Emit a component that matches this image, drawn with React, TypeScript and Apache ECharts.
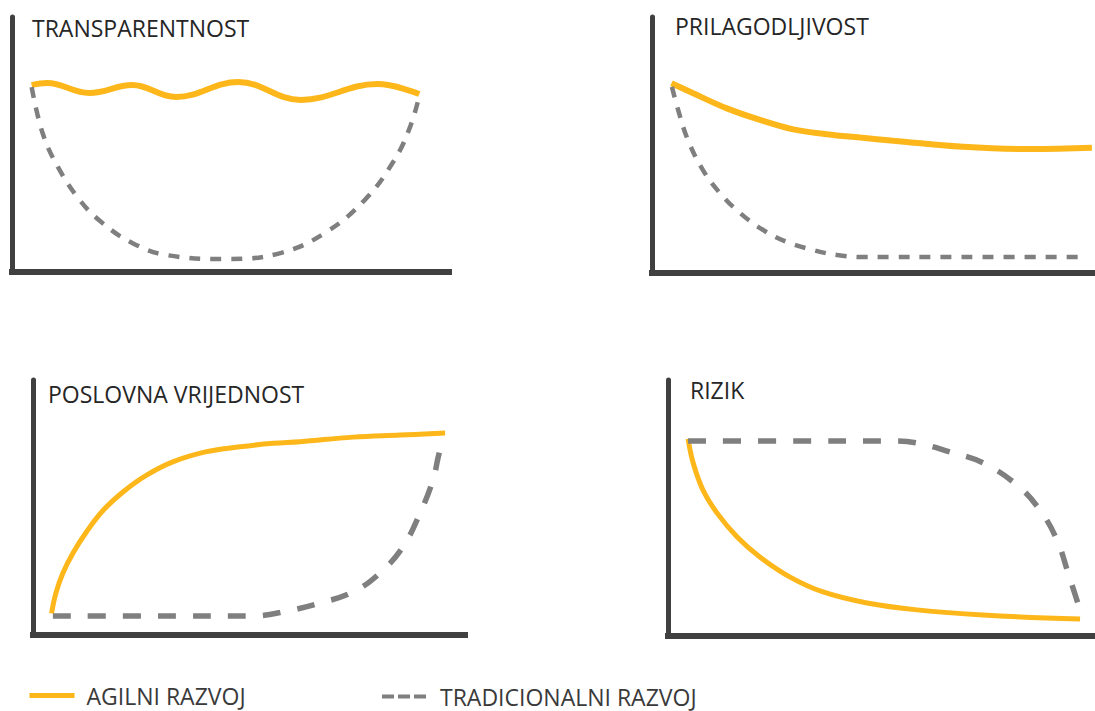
import React, { useEffect, useRef } from "react";
import * as echarts from "echarts";

// Panel titles
const titles = ["TRANSPARENTNOST", "PRILAGODLJIVOST", "POSLOVNA VRIJEDNOST", "RIZIK"];
const seriesNames = ["AGILNI RAZVOJ", "TRADICIONALNI RAZVOJ"];

// Values on a 0-100 scale per panel, [x, y]
const agileTransparency = [[4.5, 73.3], [8.0, 74.1], [17.7, 70.2], [27.5, 73.3], [37.5, 68.6], [51.8, 74.5], [66.1, 67.5], [83.6, 73.7], [93.2, 69.8]];
const tradTransparency = [[4.5, 72.5], [7.0, 54.5], [10.5, 41.2], [15.5, 28.2], [20.7, 19.2], [27.5, 11.4], [35.2, 6.7], [49.5, 5.1], [61.6, 7.5], [71.6, 15.3], [80.7, 28.2], [87.5, 43.9], [91.1, 56.9], [93.2, 69.0]];

const agileAdaptability = [[4.4, 74.1], [9.3, 70.2], [16.9, 64.3], [24.4, 59.8], [31.9, 56.1], [39.4, 54.2], [47.0, 52.9], [54.5, 51.7], [70.2, 49.3], [85.3, 48.4], [99.3, 48.9]];
const tradAdaptability = [[4.5, 72.7], [5.9, 63.7], [8.1, 52.0], [11.5, 40.2], [15.3, 31.3], [19.9, 23.4], [25.1, 16.8], [30.5, 12.1], [36.3, 9.0], [41.8, 7.0], [47.6, 6.25], [70, 6.25], [98.2, 6.25]];

const agileValue = [[4.3, 8.5], [5.3, 16.4], [6.9, 24.2], [9.2, 32.0], [12.4, 40.5], [16.3, 49.0], [20.9, 56.2], [26.3, 62.7], [32.5, 68.0], [40.2, 71.9], [47.9, 73.8], [55.6, 75.2], [61.8, 75.8], [74.1, 77.6], [85.0, 78.4], [95.4, 79.2]];
const tradValue = [[4.6, 7.5], [30, 7.5], [50.9, 7.5], [58.8, 9.4], [66.4, 12.5], [74.1, 16.9], [80.3, 24.3], [85.6, 34.5], [89.6, 47.8], [92.6, 60.8], [93.8, 69.8], [94.7, 75.7]];

const agileRisk = [[4.7, 77.0], [5.9, 67.6], [8.2, 57.0], [11.5, 48.0], [16.2, 38.7], [21.5, 30.9], [28.6, 23.0], [36.3, 17.2], [46.6, 12.9], [58.3, 10.2], [73.8, 8.2], [96.5, 6.6]];
const tradRisk = [[4.7, 76.2], [30, 76.2], [52.0, 76.2], [58.3, 75.4], [66.0, 71.9], [73.8, 67.6], [81.7, 59.0], [87.1, 49.2], [91.1, 37.5], [93.7, 24.6], [96.5, 10.2]];

const agileData = [agileTransparency, agileAdaptability, agileValue, agileRisk];
const tradData = [tradTransparency, tradAdaptability, tradValue, tradRisk];

const YELLOW = "#FDB71A";
const GRAY = "#7F7F7F";
const AXIS = "#404040";
const FONT = "Open Sans";

const grids = [
  { left: 12, top: 17, width: 437, height: 255 },
  { left: 652, top: 17, width: 443, height: 256 },
  { left: 33, top: 380, width: 432, height: 255 },
  { left: 668, top: 380, width: 427, height: 256 },
];
const titlePos = [
  { left: 32, top: 16 },
  { left: 675, top: 14 },
  { left: 48, top: 382 },
  { left: 690, top: 378 },
];
const agileWidth = [6, 6, 5, 5];
const tradWidth = [4.5, 4.5, 5.5, 5.5];
const tradDash = [[11, 10], [11, 10], [18, 17], [18, 17]];

export default function App() {
  const ref = useRef<HTMLDivElement>(null);
  useEffect(() => {
    if (!ref.current) return;
    const chart = echarts.init(ref.current, null, { renderer: "svg" });
    const xAxis = grids.map((_, i) => ({
      gridIndex: i, type: "value", min: 0, max: 100,
      axisLine: { show: true, onZero: false, lineStyle: { color: AXIS, width: 6, cap: "square" } },
      axisTick: { show: false }, axisLabel: { show: false }, splitLine: { show: false },
    }));
    const yAxis = grids.map((_, i) => ({
      gridIndex: i, type: "value", min: 0, max: 100,
      axisLine: { show: true, onZero: false, lineStyle: { color: AXIS, width: 5 } },
      axisTick: { show: false }, axisLabel: { show: false }, splitLine: { show: false },
    }));
    const series: any[] = [];
    grids.forEach((_, i) => {
      series.push({
        name: seriesNames[0], type: "line", xAxisIndex: i, yAxisIndex: i,
        data: agileData[i], smooth: 0.4, symbol: "none", z: 3,
        lineStyle: { color: YELLOW, width: agileWidth[i] }, itemStyle: { color: YELLOW },
      });
      series.push({
        name: seriesNames[1], type: "line", xAxisIndex: i, yAxisIndex: i,
        data: tradData[i], smooth: 0.4, symbol: "none", z: 4,
        lineStyle: { color: GRAY, width: tradWidth[i], type: tradDash[i] }, itemStyle: { color: GRAY },
      });
    });
    chart.setOption({
      animation: false,
      backgroundColor: "#ffffff",
      title: titles.map((t, i) => ({
        text: t, left: titlePos[i].left, top: titlePos[i].top, padding: 0,
        textStyle: { fontFamily: FONT, fontSize: 23, fontWeight: "normal", color: "#262626" },
      })),
      legend: [
        {
          data: [seriesNames[0]], left: 27, top: 684, itemWidth: 45, itemHeight: 14, selectedMode: false,
          padding: 0,
          lineStyle: { width: 5, color: YELLOW },
          itemStyle: { opacity: 0, borderWidth: 0 },
          textStyle: { fontFamily: FONT, fontSize: 23, color: "#3a3a3a", padding: [0, 0, 0, 7] },
        },
        {
          data: [seriesNames[1]], left: 380, top: 685, itemWidth: 45, itemHeight: 14, selectedMode: false,
          padding: 0,
          lineStyle: { width: 4, color: GRAY, type: [12, 4] },
          itemStyle: { opacity: 0, borderWidth: 0 },
          textStyle: { fontFamily: FONT, fontSize: 23, color: "#3a3a3a", padding: [0, 0, 0, 8] },
        },
      ],
      grid: grids.map((g) => ({ ...g, containLabel: false })),
      xAxis, yAxis, series,
    });
    return () => chart.dispose();
  }, []);
  return <div ref={ref} style={{ position: "fixed", left: 0, top: 0, width: 1095, height: 711 }} />;
}
